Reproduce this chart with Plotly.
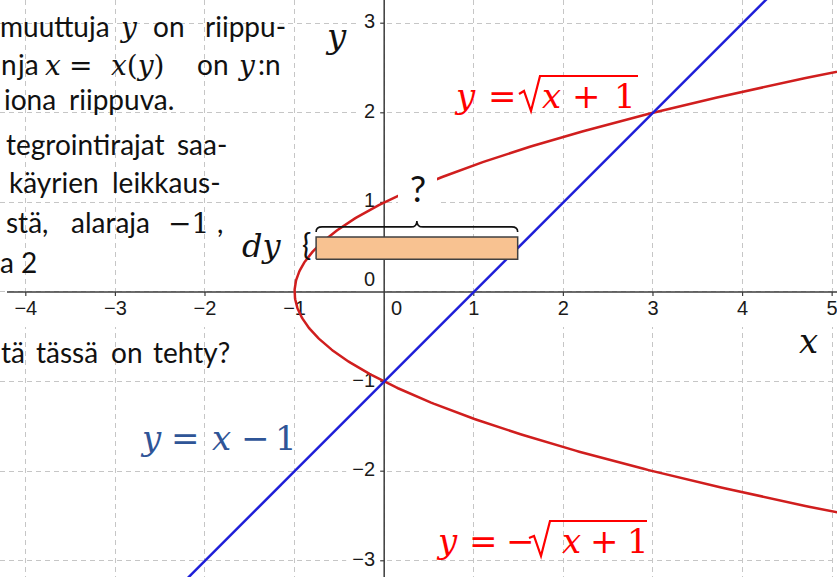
import numpy as np
import plotly.graph_objects as go

# ---------------------------------------------------------------- data
X_RANGE = [-4.288, 5.054]
Y_RANGE = [-3.181, 3.259]

X_TICKS = [-4, -3, -2, -1, 0, 1, 2, 3, 4, 5]
X_TICK_TEXT = ["−4", "−3", "−2", "−1", "0", "1", "2", "3", "4", "5"]
Y_TICKS = [-3, -2, -1, 0, 1, 2, 3]
Y_TICK_TEXT = ["−3", "−2", "−1", "0", "1", "2", "3"]

# horizontal strip of height dy between the two curves
STRIP_Y = 0.49
STRIP_DY = 0.25

# ---------------------------------------------------------------- style
W, H = 837, 577
PPU = W / (X_RANGE[1] - X_RANGE[0])          # pixels per unit, equal on both axes

RED_CURVE = "#D01E1E"
RED_TEXT = "#FF0000"
BLUE_LINE = "#1E1ED8"
BLUE_TEXT = "#2F5597"
AXIS = "#3C3C3C"
GRID = "#C6C6C6"
STRIP_FILL = "#F8C291"

TEXT_FONT = "Lato"
MATH_FONT = "DejaVu Serif"
TICK_FONT = "Liberation Sans"

# vertical distance from text-box centre to baseline, as a fraction of font size
BASE_K = {TEXT_FONT: 0.387, MATH_FONT: 0.346, TICK_FONT: 0.347}


def parabola_x(y):
    """x = y² − 1, i.e. y = ±√(x + 1)."""
    return y ** 2 - 1


def line_y(x):
    """y = x − 1."""
    return x - 1


def line_x(y):
    return y + 1


def px_x(p):
    return p / W


def px_y(p):
    return 1 - p / H


fig = go.Figure()


def label(text, x, base, size, family, color="#111111", xanchor="center"):
    """Place text in pixel space by its horizontal anchor and baseline."""
    centre = base - BASE_K[family] * size
    fig.add_annotation(
        x=px_x(x), y=px_y(centre), xref="paper", yref="paper",
        text=text, showarrow=False, xanchor=xanchor, yanchor="middle",
        borderpad=0, font=dict(family=family, size=size, color=color),
    )


def white_box(x0, y0, x1, y1, layer="between"):
    fig.add_shape(
        type="rect", xref="paper", yref="paper",
        x0=px_x(x0), x1=px_x(x1), y0=px_y(y1), y1=px_y(y0),
        fillcolor="white", line=dict(width=0), layer=layer,
    )


# ---------------------------------------------------------------- slide text boxes (behind the graph)
white_box(0, 0, 299, 124)
white_box(0, 124, 240, 290)
white_box(0, 322, 241, 374)
# backgrounds of the two red equation boxes
white_box(455, 72, 640, 110)
white_box(436, 518, 649, 557)

# tick-label backgrounds, sized in pixels around each tick
for t, s in zip(X_TICKS, X_TICK_TEXT):
    half = 14 if s.startswith("−") else 8
    cx = t + (12.5 / PPU if t == 0 else 0)
    fig.add_shape(type="rect", xref="x", yref="y", xsizemode="pixel", ysizemode="pixel",
                  xanchor=cx, yanchor=0, x0=-half, x1=half, y0=-4, y1=-35,
                  fillcolor="white", line=dict(width=0), layer="between")
for t, s in zip(Y_TICKS, Y_TICK_TEXT):
    left = -38 if s.startswith("−") else -26
    ya = 10.5 / PPU if t == 0 else t
    fig.add_shape(type="rect", xref="x", yref="y", xsizemode="pixel", ysizemode="pixel",
                  xanchor=0, yanchor=ya, x0=left, x1=-1, y0=-12, y1=12,
                  fillcolor="white", line=dict(width=0), layer="between")

# ---------------------------------------------------------------- axes, ticks, tick labels
fig.add_trace(go.Scatter(x=[X_RANGE[0] + 7 / PPU, X_RANGE[1]], y=[0, 0], mode="lines",
                         line=dict(color=AXIS, width=1.5), hoverinfo="skip"))
fig.add_trace(go.Scatter(x=[0, 0], y=Y_RANGE, mode="lines",
                         line=dict(color=AXIS, width=1.5), hoverinfo="skip"))

tick_x, tick_y = [], []
tick_len = 4 / PPU
for t in X_TICKS:
    if t != 0:
        tick_x += [t, t, None]
        tick_y += [0, -tick_len, None]
for t in Y_TICKS:
    if t != 0:
        tick_x += [0, -tick_len, None]
        tick_y += [t, t, None]
fig.add_trace(go.Scatter(x=tick_x, y=tick_y, mode="lines",
                         line=dict(color=AXIS, width=1.2), hoverinfo="skip"))

fig.add_trace(go.Scatter(
    x=[t + (12.5 / PPU if t == 0 else 0) for t in X_TICKS],
    y=[-18 / PPU] * len(X_TICKS),
    text=X_TICK_TEXT, mode="text", textposition="middle center",
    textfont=dict(family=TICK_FONT, size=20, color="#1A1A1A"), hoverinfo="skip"))
fig.add_trace(go.Scatter(
    x=[-9 / PPU] * len(Y_TICKS),
    y=[10.5 / PPU if t == 0 else t for t in Y_TICKS],
    text=Y_TICK_TEXT, mode="text", textposition="middle left",
    textfont=dict(family=TICK_FONT, size=20, color="#1A1A1A"), hoverinfo="skip"))

# ---------------------------------------------------------------- curves
y_par = np.linspace(Y_RANGE[0] - 0.2, Y_RANGE[1] + 0.2, 600)
fig.add_trace(go.Scatter(x=parabola_x(y_par), y=y_par, mode="lines",
                         line=dict(color=RED_CURVE, width=2.5), hoverinfo="skip"))

x_lin = np.array(X_RANGE)
fig.add_trace(go.Scatter(x=x_lin, y=line_y(x_lin), mode="lines",
                         line=dict(color=BLUE_LINE, width=2.5), hoverinfo="skip"))

# ---------------------------------------------------------------- strip
y_bot = STRIP_Y - STRIP_DY / 2
y_top = STRIP_Y + STRIP_DY / 2
x_l = parabola_x(STRIP_Y)
x_r = line_x(STRIP_Y)
fig.add_trace(go.Scatter(
    x=[x_l, x_r, x_r, x_l, x_l], y=[y_bot, y_bot, y_top, y_top, y_bot],
    mode="lines", fill="toself", fillcolor=STRIP_FILL,
    line=dict(color="#404040", width=1.5), hoverinfo="skip"))

# curly brace over the strip width
c = 6 / PPU
yb = y_top + 5 / PPU
yl = y_top + 10 / PPU
yt = y_top + 16 / PPU
xm = (x_l + x_r) / 2
brace = (f"M {x_l},{yb} Q {x_l},{yl} {x_l + c},{yl} L {xm - c},{yl} "
         f"Q {xm},{yl} {xm},{yt} Q {xm},{yl} {xm + c},{yl} "
         f"L {x_r - c},{yl} Q {x_r},{yl} {x_r},{yb}")
fig.add_shape(type="path", xref="x", yref="y", path=brace,
              line=dict(color="#111111", width=1.6), layer="above")

# white box behind the question mark
white_box(398, 163, 437, 214, layer="above")
label("?", 417.5, 202, 36, TEXT_FONT)

# dy and its brace
label("<i>dy</i>", 261.5, 257, 32, MATH_FONT)
label("{", 306.5, 255.5, 31, TEXT_FONT)

# ---------------------------------------------------------------- axis names
label("<i>y</i>", 336, 48, 34, MATH_FONT)
label("<i>x</i>", 808.5, 353, 34, MATH_FONT)

# ---------------------------------------------------------------- equations
EQ = 34


def radical(points, color):
    path = "M " + " L ".join(f"{px_x(a)},{px_y(b)}" for a, b in points)
    fig.add_shape(type="path", xref="paper", yref="paper", path=path,
                  line=dict(color=color, width=2.2), layer="above")


# y = √(x + 1)
for s, cx in [("<i>y</i>", 465), ("=", 502.5), ("<i>x</i>", 551), ("+", 586.5), ("1", 625)]:
    label(s, cx, 108, EQ, MATH_FONT, RED_TEXT)
radical([(519, 94), (524, 91), (531, 111), (540, 76), (638, 76)], RED_TEXT)

# y = −√(x + 1)
for s, cx in [("<i>y</i>", 446.5), ("=", 483.5), ("−", 520), ("<i>x</i>", 571), ("+", 604), ("1", 637.5)]:
    label(s, cx, 553, EQ, MATH_FONT, RED_TEXT)
radical([(529, 538), (534, 536), (541, 556), (550, 521), (647, 521)], RED_TEXT)

# y = x − 1
for s, cx in [("<i>y</i>", 151), ("=", 185.5), ("<i>x</i>", 221), ("−", 255), ("1", 285.5)]:
    label(s, cx, 450, EQ, MATH_FONT, BLUE_TEXT)

# ---------------------------------------------------------------- slide text (justified, word by word)
TS = 28
MS = 28
PARAGRAPH = [
    # word, centre x, baseline, font
    ("muuttuja", 55, 36.7, TEXT_FONT),
    ("<i>y</i>", 128.5, 36.7, MATH_FONT),
    ("on", 168.5, 36.7, TEXT_FONT),
    ("riippu-", 245, 36.7, TEXT_FONT),
    ("n", 8.5, 75, TEXT_FONT),
    ("ja", 28, 75, TEXT_FONT),
    ("<i>x</i>", 53, 75, MATH_FONT),
    ("=", 80, 75, MATH_FONT),
    ("<i>x</i>(<i>y</i>)", 138, 75, MATH_FONT),
    ("on", 212.5, 75, TEXT_FONT),
    ("<i>y</i>", 246.5, 75, MATH_FONT),
    (":n", 269, 75, TEXT_FONT),
    ("iona", 30, 110, TEXT_FONT),
    ("riippuva.", 121, 110, TEXT_FONT),
    ("tegrointirajat", 85, 155, TEXT_FONT),
    ("saa-", 202, 155, TEXT_FONT),
    ("käyrien", 54, 193, TEXT_FONT),
    ("leikkaus-", 166, 193, TEXT_FONT),
    ("stä,", 27, 233, TEXT_FONT),
    ("alaraja", 110, 233, TEXT_FONT),
    ("−1", 188.5, 233, MATH_FONT),
    (",", 219.5, 233, TEXT_FONT),
    ("a", 7, 273, TEXT_FONT),
    ("2", 29, 273, TEXT_FONT),
    ("tä", 13, 363, TEXT_FONT),
    ("tässä", 67, 363, TEXT_FONT),
    ("on", 126.5, 363, TEXT_FONT),
    ("tehty?", 191, 363, TEXT_FONT),
]
for s, x, base, fam in PARAGRAPH:
    label(s, x, base, MS if fam == MATH_FONT else TS, fam, "#111111")

# ---------------------------------------------------------------- layout
fig.update_layout(
    width=W, height=H, margin=dict(l=0, r=0, t=0, b=0),
    plot_bgcolor="white", paper_bgcolor="white", showlegend=False,
    xaxis=dict(range=X_RANGE, tick0=0, dtick=1, showgrid=True, gridcolor=GRID,
               griddash="5px,4px", gridwidth=1, zeroline=False, showticklabels=False,
               ticks="", showline=False, fixedrange=True),
    yaxis=dict(range=Y_RANGE, tick0=0, dtick=1, showgrid=True, gridcolor=GRID,
               griddash="5px,4px", gridwidth=1, zeroline=False, showticklabels=False,
               ticks="", showline=False, fixedrange=True),
)

fig.write_html("out.html")
